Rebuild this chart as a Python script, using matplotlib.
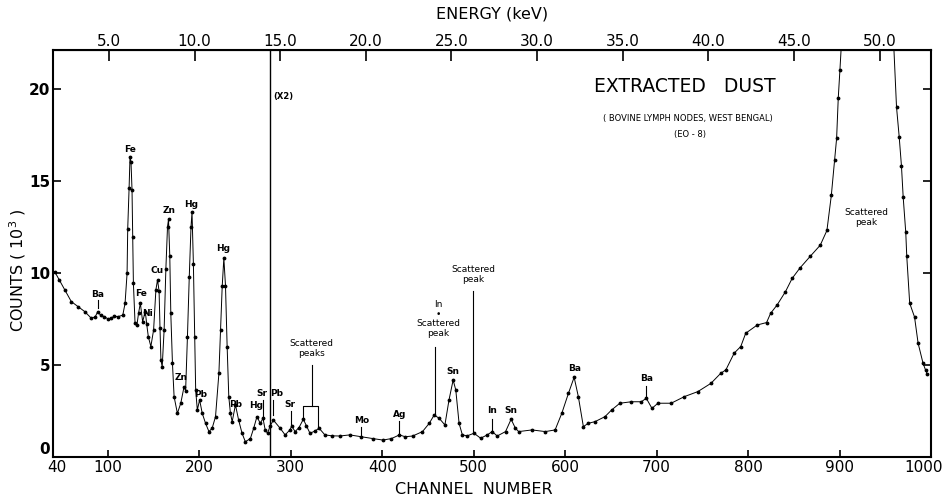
import numpy as np
import matplotlib.pyplot as plt
import matplotlib.transforms as mtransforms

# spectrum: channel number, counts (x 10^3)
channel = [42, 47, 52.8, 60, 67.4, 74.6, 81.8, 86, 89, 92, 96.3, 100, 103.6, 107, 110.9,
           116.3, 118.8, 121, 121.7, 123.2, 124.2, 125.3, 126.4, 127.2, 127.9, 129.7, 131.8,
           133.5, 135.5, 138, 140.9, 142.5, 144.2, 147, 150, 152.5, 154.3, 156, 157, 158,
           159.4, 161.5, 163.4, 165.2, 166.3, 167.7, 168.8, 170.6, 172.4, 176, 179.7, 183.3,
           185, 187, 189, 190.9, 192, 193.5, 194.9, 196, 197.8, 200.3, 203.2, 206.8, 210.5,
           214, 217.7, 221.4, 223.2, 225, 226.8, 228.6, 230.4, 232.2, 234, 235.9, 239.5, 243,
           246.7, 250.3, 255.8, 259.4, 263, 266.6, 269.6, 272, 274.6, 277.5, 281, 288.4,
           293.8, 299, 301, 304.7, 309, 313.7, 317, 321, 326, 331, 337.3, 345, 353.6, 364.5,
           377, 389.8, 400.7, 410, 418.8, 425, 433.3, 444, 451.4, 456.8, 462.3, 468.5, 473,
           477.5, 480.4, 484, 487.6, 493, 500.3, 507.6, 514.8, 520.2, 525.7, 534.8, 540.9,
           545.6, 549.2, 563.7, 578.3, 589, 596.3, 603.6, 609.8, 614.4, 619.9, 625.3, 632.6,
           643.5, 650.7, 659.8, 672.4, 683.3, 688.7, 694.9, 701.4, 715.9, 730.4, 745, 759.4,
           770.2, 775.7, 784.8, 792, 797.4, 810.1, 820.2, 824.6, 831.8, 840.9, 848.2, 856.5,
           868, 878.9, 886.2, 891, 894.6, 896.8, 898.6, 900.4, 905, 955, 959.4, 962.3, 965.2,
           967.7, 969.6, 972.4, 973.5, 976.7, 982, 985.9, 991.3, 994, 996]
counts = [10.05, 9.6, 9.08, 8.44, 8.17, 7.9, 7.54, 7.6, 7.9, 7.7, 7.62, 7.5, 7.54, 7.65, 7.62,
          7.7, 8.35, 9.98, 12.4, 14.6, 16.3, 16.0, 14.5, 11.97, 9.44, 7.27, 7.17,
          7.8, 8.35, 7.35, 7.9, 7.2, 6.54, 6.0, 6.9, 9.08, 9.62, 9.0, 7.0, 5.27,
          4.9, 6.9, 10.2, 12.5, 12.9, 10.9, 7.8, 5.1, 3.28, 2.37, 2.92, 3.82,
          3.6, 6.54, 9.8, 12.5, 13.3, 10.5, 6.54, 3.64, 2.55, 3.1, 2.37, 1.83, 1.38,
          1.56, 2.19, 4.55, 6.9, 9.26, 10.8, 9.3, 6.0, 3.28, 2.37, 1.92, 2.83, 2.0,
          1.29, 0.83, 1.0, 1.56, 2.19, 1.83, 2.1, 1.47, 1.29, 1.7, 2.0, 1.56,
          1.2, 1.47, 1.68, 1.38, 1.6, 2.05, 1.7, 1.29, 1.4, 1.56, 1.2, 1.15, 1.14, 1.2,
          1.1, 1.0, 0.92, 1.0, 1.2, 1.1, 1.14, 1.38, 1.83, 2.28, 2.1, 1.74, 3.1,
          4.18, 3.64, 1.83, 1.2, 1.15, 1.29, 1.02, 1.2, 1.38, 1.14, 1.38, 2.05,
          1.56, 1.38, 1.47, 1.38, 1.47, 2.37, 3.46, 4.33, 3.28, 1.65, 1.83, 1.92,
          2.19, 2.55, 2.92, 3.0, 3.0, 3.19, 2.64, 2.92, 2.92, 3.28, 3.55, 4.0,
          4.55, 4.73, 5.64, 6.0, 6.72, 7.17, 7.3, 7.8, 8.26, 8.98, 9.7, 10.25,
          10.9, 11.5, 12.3, 14.2, 16.1, 17.3, 19.5, 21.0, 25, 25, 22.2, 19.0, 17.4,
          15.8, 14.1, 12.2, 10.9, 8.35, 7.6, 6.18, 5.09, 4.73, 4.5]

channel_ticks = [40, 100, 200, 300, 400, 500, 600, 700, 800, 900, 1000]
energy_ticks = [5, 10, 15, 20, 25, 30, 35, 40, 45, 50]
count_ticks = [0, 5, 10, 15, 20]

# peak labels: text, channel, height
peak_labels = [("Fe", 124.6, 16.7), ("Ba", 89, 8.8), ("Fe", 136, 8.9), ("Ni", 143.5, 7.8),
               ("Cu", 153.6, 10.1), ("Zn", 167, 13.4), ("Hg", 190.5, 13.7), ("Hg", 226, 11.3),
               ("Zn", 179.7, 4.3), ("Pb", 201.4, 3.4), ("Pb", 239.5, 2.85), ("Hg", 262, 2.8),
               ("Sr", 268.5, 3.45), ("Pb", 284, 3.45), ("Sr", 298.5, 2.85), ("Mo", 377, 2.0),
               ("Ag", 418.8, 2.3), ("Sn", 477.5, 4.65), ("In", 520.2, 2.5), ("Sn", 540.9, 2.5),
               ("Ba", 609.8, 4.8), ("Ba", 688.7, 4.25),
               ("Scattered\npeaks", 322.8, 5.9), ("In\n\u2022\nScattered\npeak", 461, 7.5),
               ("Scattered\npeak", 499.6, 9.9), ("Scattered\npeak", 929, 13.0)]
# marker lines: channel, top, bottom
peak_lines = [(89, 8.5, 8.1), (270, 3.1, 2.0), (281, 3.1, 2.3), (300.3, 2.5, 1.8),
              (322.8, 5.0, 2.77), (377, 1.65, 1.2), (418.8, 1.98, 1.3), (457.2, 6.0, 2.28),
              (499.6, 9.0, 1.4), (520.2, 2.04, 1.43), (688.7, 3.83, 3.29)]

fig = plt.figure(figsize=(9.42, 4.96), dpi=100)
ax = fig.add_axes([53 / 942, 1 - 457 / 496, 878 / 942, 407 / 496])

ax.plot(channel, counts, color='black', lw=0.7, marker='.', ms=3.5)
ax.axvline(277, color='black', lw=1.0)
ax.text(281, 19.6, "(X2)", fontsize=6, fontweight='bold', va='center')

ax.set_xlim(40, 1000)
ax.set_ylim(0, 22.1)
ax.set_xticks(channel_ticks)
ax.set_yticks(count_ticks)
ax.tick_params(axis='x', direction='in', length=5, width=1.2, pad=2, labelsize=11)
ax.tick_params(axis='y', direction='in', length=6, width=1.2, pad=2, labelsize=11,
               right=True)
for lab in ax.get_yticklabels():
    lab.set_fontweight('bold')
ax.get_yticklabels()[0].set_va('bottom')

# nudge the end labels of the channel axis like the original
xlabs = ax.get_xticklabels()
xlabs[0].set_transform(xlabs[0].get_transform() +
                       mtransforms.ScaledTranslation(4 / 100, 0, fig.dpi_scale_trans))
xlabs[-1].set_transform(xlabs[-1].get_transform() +
                        mtransforms.ScaledTranslation(-7 / 100, 0, fig.dpi_scale_trans))
for s in ax.spines.values():
    s.set_linewidth(1.5)

ch2e = lambda c: (np.asarray(c) - 7.7) / 18.72
e2ch = lambda e: np.asarray(e) * 18.72 + 7.7
top = ax.secondary_xaxis('top', functions=(ch2e, e2ch))
top.set_xticks(energy_ticks)
top.set_xticklabels([f"{e:.1f}" for e in energy_ticks])
top.tick_params(direction='in', length=8, width=1.2, pad=1, labelsize=11)

for txt, x, y in peak_labels:
    ax.text(x, y, txt, fontsize=6.5, fontweight='bold' if '\n' not in txt else 'normal',
            ha='center', va='center', linespacing=1.1)
for x, y0, y1 in peak_lines:
    ax.plot([x, x], [y0, y1], color='black', lw=0.8)
# bracket under "Scattered peaks"
ax.plot([313.4, 313.4, 329.7, 329.7], [2.1, 2.77, 2.77, 1.6], color='black', lw=0.8)

ax.text(731, 20.1, "EXTRACTED   DUST", fontsize=13.5, ha='center', va='center')
ax.text(734, 18.4, "( BOVINE LYMPH NODES, WEST BENGAL)", fontsize=6,
        ha='center', va='center')
ax.text(736, 17.5, "(EO - 8)", fontsize=6, ha='center', va='center')

fig.text(492 / 942, 1 - 14 / 496, "ENERGY (keV)", fontsize=11.5, ha='center', va='center')
fig.text(474 / 942, 1 - 489 / 496, "CHANNEL  NUMBER", fontsize=11.5, ha='center',
         va='center')
fig.text(18 / 942, 1 - 270 / 496, r"COUNTS ( 10$^3$ )", fontsize=11.5, rotation=90,
         ha='center', va='center')

fig.savefig("out.png", dpi=100)
